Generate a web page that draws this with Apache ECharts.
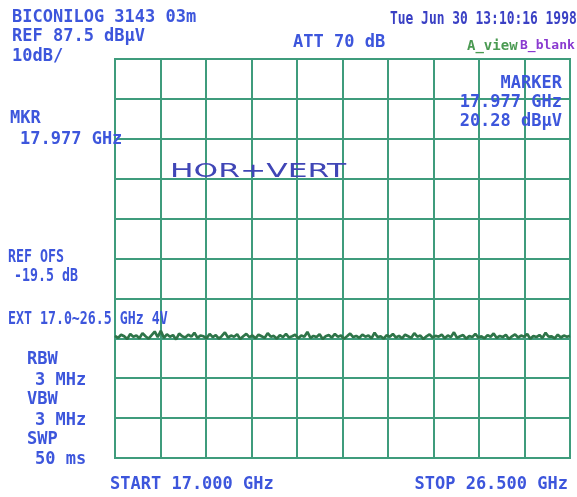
<!DOCTYPE html>
<html><head><meta charset="utf-8">
<script src="https://cdn.jsdelivr.net/npm/echarts@6/dist/echarts.min.js"></script>
<style>html,body{margin:0;padding:0;background:#fff}#c{width:577px;height:497px}</style>
</head><body><div id="c"></div>
<script>
// ---- data ----
const startGHz = 17.0;
const stopGHz = 26.5;
const refLevel = 87.5;      // dBµV at top graticule line
const dbPerDiv = 10;
const divisions = 10;
const traceDbuv = [
18.1,17.6,18.4,18.0,17.3,18.6,17.9,18.2,17.5,18.8,
18.0,17.4,18.3,19.2,17.8,19.4,17.6,18.5,17.9,18.3,
17.2,18.7,18.0,17.7,18.4,17.9,18.9,17.6,18.2,18.0,
17.5,18.6,17.8,18.3,17.4,18.1,19.0,17.7,18.2,17.9,
18.5,17.3,18.0,18.6,17.8,18.2,17.5,18.4,18.0,17.6,
18.8,17.9,18.1,17.4,18.3,17.8,18.6,17.7,18.0,18.4,
17.5,18.2,17.9,19.1,17.6,18.1,17.8,18.5,17.3,18.0,
18.3,17.7,18.6,17.9,18.2,17.4,18.0,18.7,17.8,18.1,
17.6,18.4,17.9,18.2,17.5,18.9,17.8,18.0,17.4,18.3,
17.9,18.6,17.7,18.1,17.5,18.4,18.0,17.6,18.8,17.9,
18.2,17.3,18.0,18.5,17.7,18.1,17.9,18.4,17.5,18.2,
17.8,19.0,17.6,18.0,18.3,17.4,18.1,17.8,18.6,17.7,
18.0,17.5,18.3,17.9,18.7,17.6,18.1,17.8,18.4,17.3,
18.0,18.5,17.7,18.2,17.9,18.6,17.4,18.1,17.8,18.3,
17.6,18.9,17.9,18.0,17.5,18.4,17.7,18.2,17.9,18.1
];
const headerLines = ['BICONILOG 3143 03m', 'REF 87.5 dBµV', '10dB/'];
const attText = 'ATT 70 dB';
const dateText = 'Tue Jun 30 13:10:16 1998';
const traceA = 'A_view';
const traceB = 'B_blank';
const markerBlock = ['MARKER', '17.977 GHz', '20.28 dBµV'];
const mkrLines = ['MKR', '17.977 GHz'];
const refOfsLines = ['REF OFS', '-19.5 dB'];
const extLine = 'EXT 17.0~26.5 GHz 4V';
const bwLines = ['RBW', '3 MHz', 'VBW', '3 MHz', 'SWP', '50 ms'];
const startLabel = 'START 17.000 GHz';
const stopLabel = 'STOP 26.500 GHz';
const note = 'HOR+VERT';

// ---- chart ----
const BLUE = '#3d56dc';
const GRIDC = '#3f9c7c';
const mono = s => 'bold ' + s + 'px "DejaVu Sans Mono"';
function txt(text, x, y, o) {
  o = o || {};
  return {
    type: 'text', x: x, y: y, z: 100,
    scaleX: o.sx || 1, scaleY: o.sy || 1,
    style: {
      text: text, font: o.font || mono(17), fill: o.fill || BLUE,
      align: o.align || 'left', verticalAlign: 'middle'
    }
  };
}
const g = [];
headerLines.forEach((t, i) => g.push(txt(t, 12, [18, 37, 57][i])));
g.push(txt(attText, 293, 43));
g.push(txt(dateText, 390, 20, {sx: 0.76, fill: '#3a40c4'}));
g.push(txt(traceA, 467, 46, {font: mono(14), fill: '#4a9a52'}));
g.push(txt(traceB, 520, 46, {font: mono(13), fill: '#8a3ad0'}));
markerBlock.forEach((t, i) => g.push(txt(t, 562, [84, 103, 122][i], {align: 'right'})));
g.push(txt(mkrLines[0], 10, 119));
g.push(txt(mkrLines[1], 20, 140));
g.push(txt(refOfsLines[0], 8, 258, {sx: 0.78}));
g.push(txt(refOfsLines[1], 14, 277, {sx: 0.78}));
g.push(txt(extLine, 8, 320, {sx: 0.78}));
bwLines.forEach((t, i) => g.push(txt(t, i % 2 ? 35 : 27, [360, 381, 400, 421, 440, 460][i])));
g.push(txt(startLabel, 110, 485));
g.push(txt(stopLabel, 568, 485, {align: 'right'}));
g.push(txt(note, 170, 172, {font: 'normal 19px "DejaVu Sans"', sx: 1.65, fill: '#4046b6'}));

const chart = echarts.init(document.getElementById('c'), null, {renderer: 'canvas'});
const n = traceDbuv.length;
chart.setOption({
  animation: false,
  backgroundColor: '#ffffff',
  grid: {left: 115, top: 59, width: 455, height: 399, show: true,
         borderColor: GRIDC, borderWidth: 2, backgroundColor: 'transparent'},
  xAxis: [
    {type: 'value', min: 0, max: divisions, interval: 1,
     axisLine: {show: false}, axisTick: {show: false}, axisLabel: {show: false},
     splitLine: {show: true, lineStyle: {color: GRIDC, width: 2}}},
    {type: 'value', min: startGHz, max: stopGHz, show: false, splitLine: {show: false}}
  ],
  yAxis: [
    {type: 'value', min: 0, max: divisions, interval: 1,
     axisLine: {show: false}, axisTick: {show: false}, axisLabel: {show: false},
     splitLine: {show: true, lineStyle: {color: GRIDC, width: 2}}},
    {type: 'value', min: refLevel - divisions * dbPerDiv, max: refLevel, show: false, splitLine: {show: false}}
  ],
  series: [{
    type: 'line', xAxisIndex: 1, yAxisIndex: 1, showSymbol: false, symbol: 'none',
    lineStyle: {color: '#2e7448', width: 2.7},
    data: traceDbuv.map((v, i) => [startGHz + i * (stopGHz - startGHz) / (n - 1), v])
  }],
  graphic: g
});
</script></body></html>
